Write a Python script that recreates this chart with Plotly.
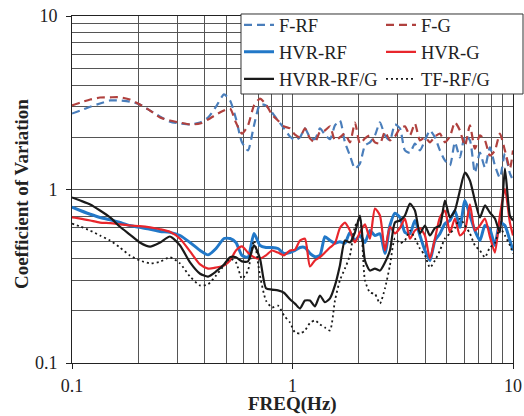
import plotly.graph_objects as go

FREQ = [0.100, 0.109, 0.121, 0.134, 0.149, 0.165, 0.183, 0.203, 0.226, 0.251, 0.278, 0.309, 0.343, 0.381,
        0.414, 0.450, 0.489, 0.521, 0.554, 0.590, 0.628, 0.669, 0.712, 0.758, 0.807, 0.859, 0.915, 0.974,
        1.026, 1.081, 1.139, 1.200, 1.264, 1.332, 1.403, 1.479, 1.558, 1.641, 1.729, 1.822, 1.920, 2.022,
        2.131, 2.245, 2.365, 2.492, 2.626, 2.766, 2.914, 3.071, 3.235, 3.408, 3.591, 3.783, 3.986, 4.200,
        4.425, 4.662, 4.912, 5.175, 5.452, 5.744, 6.052, 6.376, 6.718, 7.078, 7.457, 7.857, 8.278, 8.721,
        9.189, 9.681, 10.0]

F_RF = [2.74, 2.85, 3.0, 3.13, 3.26, 3.26, 3.21, 3.09, 2.85, 2.63, 2.46, 2.40, 2.37, 2.43, 2.60, 3.0, 3.53,
        3.26, 2.56, 1.87, 1.68, 2.34, 3.09, 3.05, 2.78, 2.50, 2.25, 2.02,
        1.92, 2.0, 2.25, 2.0, 1.95, 2.25, 2.07, 1.95, 2.34, 2.50, 1.87, 1.57, 1.32, 1.41, 1.79, 1.87, 2.05,
        2.44, 2.05, 1.92, 2.37, 2.25, 1.68, 1.63, 1.84, 1.68, 1.92, 2.19, 2.0, 1.68, 1.47, 1.375, 1.87, 1.53,
        2.05, 1.92, 1.25, 1.63, 1.34, 1.75, 1.375, 1.17, 1.61, 1.24, 1.13]

F_G = [3.05, 3.17, 3.30, 3.39, 3.40, 3.40, 3.30, 3.09, 2.85, 2.60, 2.50, 2.43, 2.37, 2.40, 2.53, 2.70, 2.85,
       2.93, 2.43, 2.10, 2.34, 3.05, 3.34, 3.09, 2.70, 2.50, 2.31, 2.25,
       2.07, 2.0, 2.25, 1.97, 1.87, 2.15, 2.19, 2.31, 1.92, 2.0, 2.10, 1.87, 2.43, 1.84, 1.97, 2.05, 1.87,
       1.84, 2.15, 1.92, 2.02, 2.25, 2.31, 2.05, 2.40, 1.92, 2.0, 1.87, 2.02, 2.10, 1.87, 2.02, 2.44, 2.19,
       1.79, 2.34, 1.72, 2.05, 1.92, 1.57, 1.68, 2.10, 1.68, 1.32, 1.68]

HVR_RF = [0.79, 0.757, 0.72, 0.69, 0.67, 0.645, 0.62, 0.605, 0.59, 0.573, 0.566, 0.543, 0.495, 0.445, 0.42,
          0.457, 0.522, 0.522, 0.495, 0.417, 0.407, 0.558, 0.476, 0.463, 0.463, 0.457, 0.428, 0.433,
          0.445, 0.463, 0.463, 0.428, 0.41, 0.417, 0.535, 0.508, 0.49, 0.5, 0.49, 0.566, 0.508, 0.543, 0.495,
          0.58, 0.543, 0.556, 0.428, 0.62, 0.73, 0.69, 0.566, 0.556, 0.663, 0.543, 0.445, 0.39, 0.508, 0.556,
          0.635, 0.663, 0.757, 0.605, 0.864, 0.708, 0.58, 0.508, 0.62, 0.59, 0.476, 0.645, 0.62, 0.508, 0.445]

HVR_G = [0.69, 0.68, 0.663, 0.645, 0.64, 0.63, 0.62, 0.615, 0.605, 0.59, 0.57, 0.52, 0.44, 0.37, 0.35, 0.355,
         0.365, 0.39, 0.445, 0.47, 0.433, 0.407, 0.40, 0.417, 0.445, 0.433, 0.417, 0.445,
         0.45, 0.508, 0.52, 0.36, 0.39, 0.407, 0.433, 0.463, 0.49, 0.6, 0.645, 0.58, 0.495, 0.566, 0.63, 0.52,
         0.776, 0.708, 0.445, 0.61, 0.558, 0.6, 0.68, 0.52, 0.58, 0.6, 0.543, 0.40, 0.52, 0.69, 0.757, 0.566,
         0.68, 0.543, 0.58, 0.82, 0.58, 0.62, 0.68, 0.535, 0.433, 0.708, 1.01, 0.645, 0.543]

HVRR_RF_G = [0.90, 0.864, 0.82, 0.757, 0.69, 0.61, 0.55, 0.495, 0.468, 0.495, 0.536, 0.476, 0.38, 0.327,
             0.315, 0.337, 0.37, 0.407, 0.407, 0.385, 0.385, 0.476, 0.40, 0.27, 0.265, 0.262, 0.254, 0.233,
             0.22, 0.206, 0.229, 0.229, 0.212, 0.245, 0.224, 0.236, 0.28, 0.365, 0.508, 0.495, 0.566, 0.708,
             0.39, 0.341, 0.35, 0.341, 0.38, 0.445, 0.645, 0.663, 0.708, 0.83, 0.757, 0.558, 0.62, 0.543, 0.6,
             0.62, 0.864, 0.69, 0.757, 0.987, 1.25, 1.127, 0.864, 0.69, 0.809, 0.737, 0.68, 0.566, 1.32, 0.708,
             0.663]

TF_RF_G = [0.636, 0.612, 0.58, 0.543, 0.508, 0.463, 0.417, 0.39, 0.375, 0.383, 0.407, 0.375, 0.315, 0.28,
           0.284, 0.319, 0.365, 0.40, 0.38, 0.306, 0.341, 0.508, 0.319, 0.229, 0.209, 0.214, 0.188, 0.171,
           0.15, 0.148, 0.154, 0.17, 0.176, 0.167, 0.16, 0.154, 0.229, 0.30, 0.35, 0.417, 0.612, 0.68, 0.30,
           0.255, 0.25, 0.22, 0.269, 0.365, 0.522, 0.49, 0.508, 0.58, 0.522, 0.457, 0.417, 0.355, 0.39, 0.445,
           0.522, 0.558, 0.60, 0.68, 0.62, 0.558, 0.476, 0.445, 0.407, 0.463, 0.49, 0.60, 0.543, 0.476, 0.428]

TICK_VALS = [0.1, 1, 10]
TICK_TEXT = ["0.1", "1", "10"]
X_TITLE = "FREQ(Hz)"
Y_TITLE = "Coefficient of Variation"

SERIF = "Liberation Serif, Times New Roman, serif"
TXT = "#222222"

# (name, values, line style, legend column)
series = [
    ("F-RF", F_RF, dict(color="#4a7ebb", width=2.2, dash="8px,5px"), "legend"),
    ("F-G", F_G, dict(color="#b0413e", width=2.2, dash="8px,5px"), "legend2"),
    ("HVR-RF", HVR_RF, dict(color="#2278c8", width=3), "legend"),
    ("HVR-G", HVR_G, dict(color="#e8262c", width=2.2), "legend2"),
    ("HVRR-RF/G", HVRR_RF_G, dict(color="#1a1a1a", width=2.2), "legend"),
    ("TF-RF/G", TF_RF_G, dict(color="#1a1a1a", width=1.8, dash="2px,3px"), "legend2"),
]

fig = go.Figure()
for name, vals, line, lg in series:
    fig.add_trace(go.Scatter(x=FREQ, y=vals, mode="lines", name=name, legend=lg,
                             line=dict(shape="spline", smoothing=0.6, **line)))

grid_col = "#555555"
axis_common = dict(
    type="log", range=[-1, 1], tickvals=TICK_VALS, ticktext=TICK_TEXT,
    showline=True, linecolor="#222222", linewidth=1, mirror=True,
    ticks="outside", ticklen=5, tickcolor="#222222",
    showgrid=True, gridcolor=grid_col, gridwidth=1,
    minor=dict(showgrid=True, dtick="D1", gridcolor=grid_col, gridwidth=1, ticks=""),
    tickfont=dict(family=SERIF, size=18, color=TXT),
    zeroline=False, automargin=False,
)

fig.update_xaxes(**axis_common, ticklabelstandoff=1)
fig.update_yaxes(**axis_common, ticklabelstandoff=5)

legend_common = dict(orientation="v", yanchor="top", xanchor="left", y=1.028,
                     bgcolor="rgba(0,0,0,0)", borderwidth=0,
                     font=dict(family=SERIF, size=18.5, color=TXT),
                     tracegroupgap=0, itemwidth=30)

fig.update_layout(
    width=524, height=416,
    margin=dict(l=72, r=11, t=16, b=53, autoexpand=False),
    paper_bgcolor="white", plot_bgcolor="white",
    showlegend=True,
    legend=dict(x=0.3787, **legend_common),
    legend2=dict(x=0.7007, **legend_common),
    shapes=[
        dict(type="rect", xref="paper", yref="paper", x0=0.3832, x1=1.0227, y0=0.7752, y1=1.0058,
             fillcolor="white", line=dict(color="#333333", width=1), layer="above"),
    ],
    annotations=[
        dict(text="<b>" + X_TITLE + "</b>", xref="paper", yref="paper", x=0.5, y=-0.119,
             xanchor="center", yanchor="middle", showarrow=False,
             font=dict(family=SERIF, size=19, color=TXT)),
        dict(text="<b>" + Y_TITLE + "</b>", xref="paper", yref="paper", x=-0.1156, y=0.487,
             xanchor="center", yanchor="middle", showarrow=False, textangle=-90,
             font=dict(family=SERIF, size=19, color=TXT)),
    ],
)

fig.write_html("out.html", config={"displayModeBar": False},
               post_script="document.body.style.margin='0';document.body.style.overflow='hidden';")
